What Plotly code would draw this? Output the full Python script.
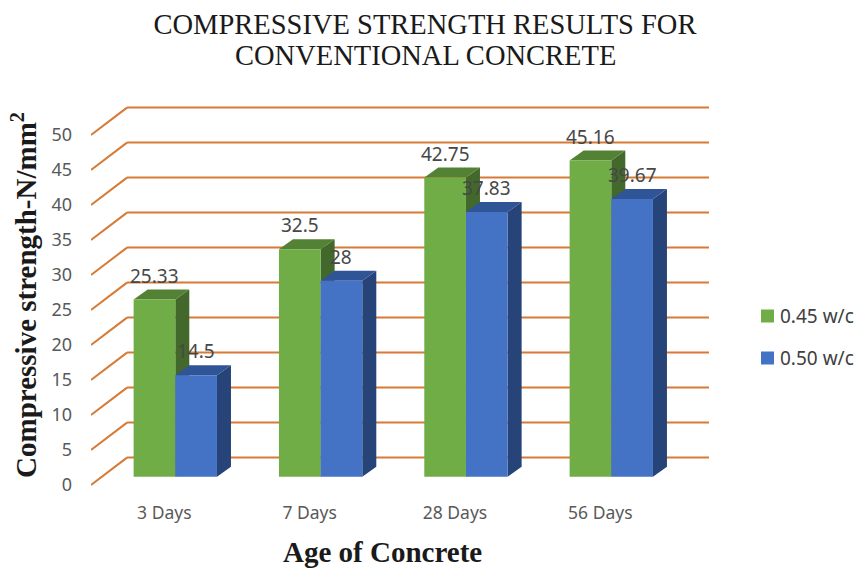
import plotly.graph_objects as go

categories = ["3 Days", "7 Days", "28 Days", "56 Days"]
series_names = ["0.45 w/c", "0.50 w/c"]
wc045 = [25.33, 32.5, 42.75, 45.16]
wc050 = [14.5, 28, 37.83, 39.67]
y_ticks = [0, 5, 10, 15, 20, 25, 30, 35, 40, 45, 50]

TITLE_1 = "COMPRESSIVE STRENGTH RESULTS FOR"
TITLE_2 = "CONVENTIONAL CONCRETE"
X_TITLE = "Age of Concrete"
Y_TITLE = "Compressive strength-N/mm<sup>2</sup>"
SANS = "Noto Sans"
SERIF = "Liberation Serif"
TXT = "#595959"
DARK = "#1a1a1a"
GRID = "#D67A35"
GREEN = ("#70AD47", "#548235", "#43682B")
BLUE = ("#4472C4", "#2F5597", "#264478")

W, H = 856, 568
PX_X, PX_Y = 145.33, 7.0
L, R, T, B = 91, W, 90, 500
X0_PX, Y0_PX = 175.3, 485.0
x_range = [(L - X0_PX) / PX_X, (R - X0_PX) / PX_X]
y_range = [(Y0_PX - B) / PX_Y, (Y0_PX - T) / PX_Y]

bar_w = 41.67 / PX_X
floor = (Y0_PX - 476.7) / PX_Y
dx, dy = 14 / PX_X, 10 / PX_Y
wall_dx, wall_dy = 36 / PX_X, 27.4 / PX_Y
wall_end = (709 - X0_PX) / PX_X
xs = list(range(len(categories)))

shapes = []
for v in y_ticks:
    line = dict(color=GRID, width=2)
    shapes.append(dict(type="line", layer="below", xref="x", yref="y", x0=x_range[0], y0=v,
                       x1=x_range[0] + wall_dx, y1=v + wall_dy, line=line))
    shapes.append(dict(type="line", layer="below", xref="x", yref="y", x0=x_range[0] + wall_dx, y0=v + wall_dy,
                       x1=wall_end, y1=v + wall_dy, line=line))

fig = go.Figure()


def polys(pts_list, color, z):
    px, py = [], []
    for pts in pts_list:
        px += [p[0] for p in pts] + [None]
        py += [p[1] for p in pts] + [None]
    fig.add_trace(go.Scatter(x=px, y=py, mode="lines", fill="toself", fillcolor=color,
                             line=dict(width=0), showlegend=False, hoverinfo="skip", zorder=z))


def series(name, values, offset, colors, z):
    front, top, side = colors
    tops, sides = [], []
    for i, v in zip(xs, values):
        a, b = i + offset, i + offset + bar_w
        h = v + floor
        tops.append([(a, h), (b, h), (b + dx, h + dy), (a + dx, h + dy)])
        sides.append([(b, floor), (b + dx, floor + dy), (b + dx, h + dy), (b, h)])
    polys(sides, side, z)
    polys(tops, top, z)
    fig.add_trace(go.Bar(x=xs, y=values, base=floor, width=bar_w, offset=offset, name=name,
                         marker=dict(color=front, line=dict(width=0)), zorder=z + 1, showlegend=False))


series(series_names[0], wc045, -bar_w, GREEN, 1)
series(series_names[1], wc050, 0, BLUE, 3)

annotations = []

# data labels sit above every bar face
for values, offset in ((wc045, -bar_w / 2), (wc050, bar_w / 2)):
    for i, v in zip(xs, values):
        annotations.append(dict(text=str(v), xref="x", yref="y", x=i + offset, y=v + floor + 3.4,
                                xanchor="center", yanchor="middle", showarrow=False,
                                font=dict(family=SANS, size=19, color="#474747")))


def label(text, px, py, size, family=SERIF, color=DARK, anchor="center"):
    annotations.append(dict(text=text, xref="paper", yref="paper", x=(px - L) / (R - L), y=(B - py) / (B - T),
                            xanchor=anchor, yanchor="middle", showarrow=False,
                            font=dict(family=family, size=size, color=color)))


label(TITLE_2, 425, 56, 28.5)
label(f"<b>{X_TITLE}</b>", 382, 552, 29)
for name, color, py in zip(series_names, (GREEN[0], BLUE[0]), (316, 358)):
    shapes.append(dict(type="rect", xref="paper", yref="paper", layer="above", line=dict(width=0), fillcolor=color,
                       x0=(761 - L) / (R - L), x1=(774 - L) / (R - L),
                       y0=(B - py + 6.5) / (B - T), y1=(B - py - 6.5) / (B - T)))
    label(name, 778, py, 19, family=SANS, color="#404040", anchor="left")

fig.update_layout(
    width=W, height=H, barmode="overlay", plot_bgcolor="white", paper_bgcolor="white",
    margin=dict(l=L, r=W - R, t=T, b=H - B, autoexpand=False), showlegend=False,
    shapes=shapes, annotations=annotations,
    title=dict(text=TITLE_1, font=dict(family=SERIF, size=28.5, color=DARK),
               x=425 / W, xanchor="center", y=1 - 24 / H, yanchor="middle"),
    xaxis=dict(range=x_range, tickmode="array", tickvals=[i - 11 / PX_X for i in xs], ticktext=categories,
               showgrid=False, zeroline=False, showline=False, ticks="",
               tickfont=dict(family=SANS, size=17.5, color=TXT)),
    yaxis=dict(range=y_range, tickmode="array", tickvals=y_ticks, ticktext=[str(t) for t in y_ticks],
               showgrid=False, zeroline=False, showline=False, ticks="", ticklabelstandoff=18,
               tickfont=dict(family=SANS, size=18, color=TXT),
               title=dict(text=f"<b>{Y_TITLE}</b>", font=dict(family=SERIF, size=29, color=DARK), standoff=6)),
)
fig.write_html("out.html", config=dict(displayModeBar=False),
               post_script="document.body.style.margin='0';document.body.style.overflow='hidden';")
